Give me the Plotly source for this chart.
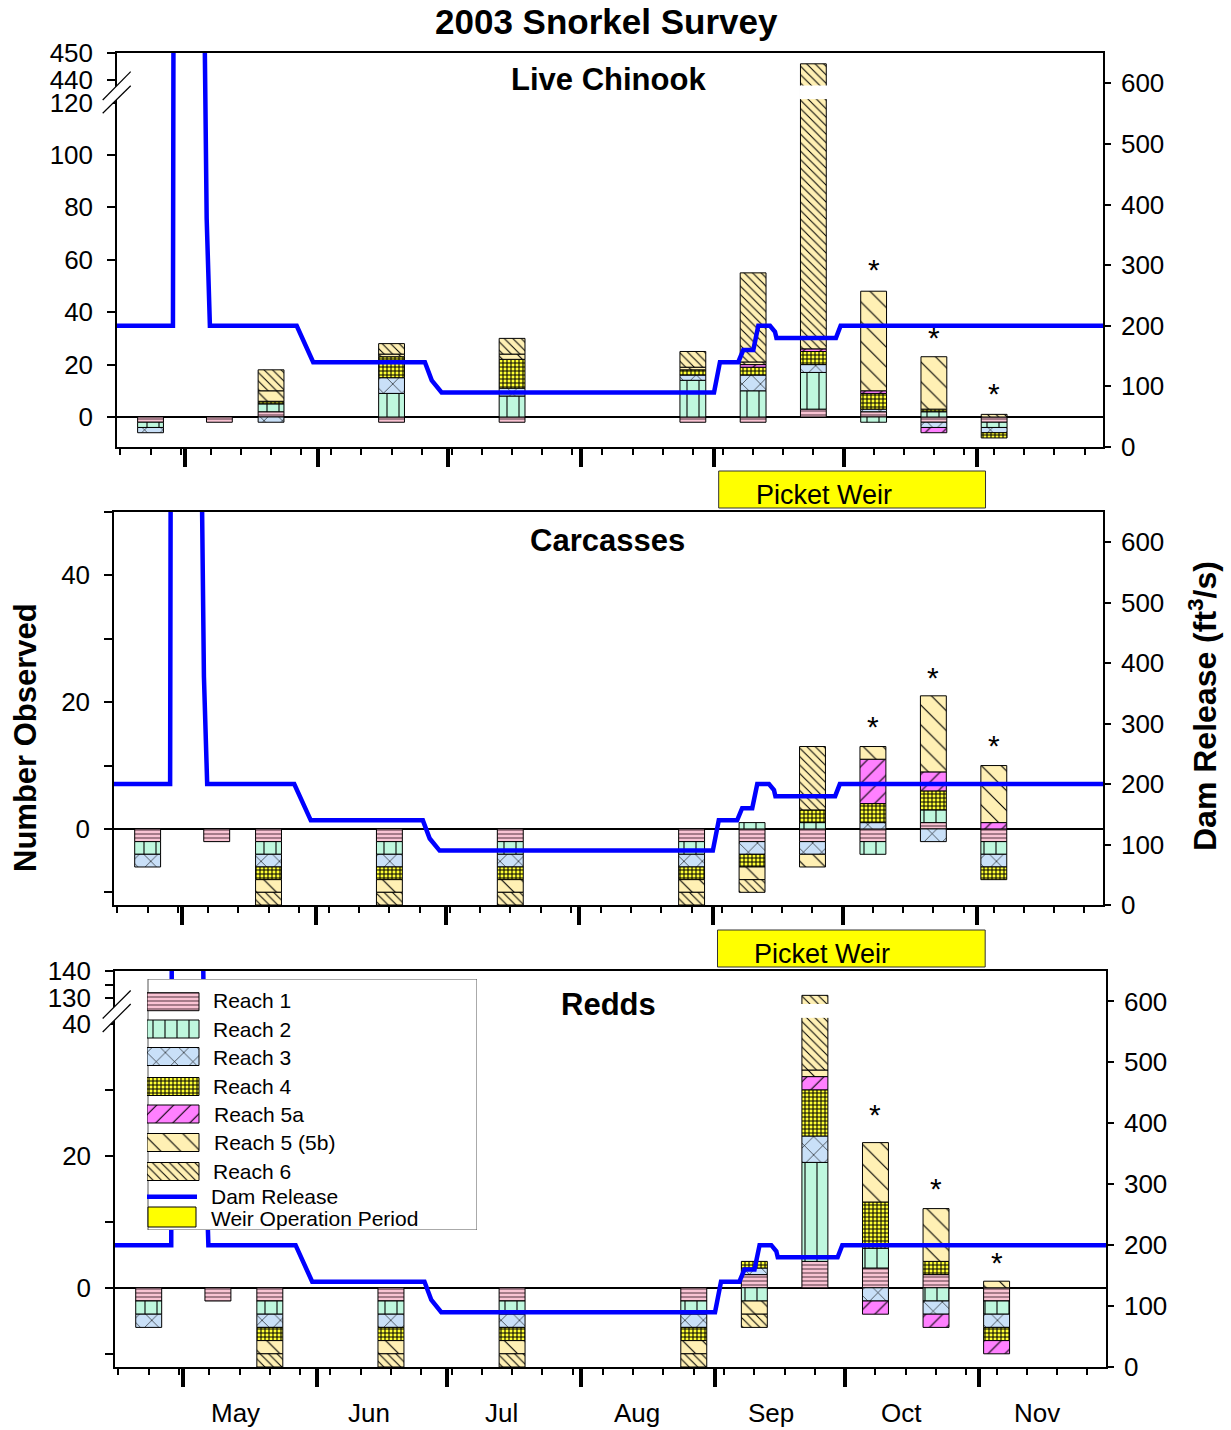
import plotly.graph_objects as go
import pandas as pd

W, H = 1231, 1430
DAY_MS = 86400000


def px_x(p):
    return p / W


def px_y(p):
    return 1 - p / H


# ---------------- data ----------------
survey_dates = ["2003-04-23", "2003-05-09", "2003-05-21", "2003-06-18", "2003-07-16",
                "2003-08-27", "2003-09-10", "2003-09-24", "2003-10-08", "2003-10-22", "2003-11-05"]
reach_names = ["Reach 1", "Reach 2", "Reach 3", "Reach 4", "Reach 5a", "Reach 5 (5b)", "Reach 6"]

# negative blocks (-2) mark reaches shown below the zero line
chinook_r1 = [-2, -2, 2, -2, -2, -2, -2, 3, 2, -2, -2]
chinook_r2 = [-2, 0, 3, 9, 8, 14, 10, 14, -2, 2, -2]
chinook_r3 = [-2, 0, -2, 6, 3, 2, 6, 3, 1, -2, -2]
chinook_r4 = [0, 0, 1, 8, 11, 2, 3, 5, 6, 1, -2]
chinook_r5a = [0, 0, 0, 0, 0, 0, 1, 1, 1, -2, 0]
chinook_r5b = [0, 0, 4, 1, 2, 1, 1, 0, 38, 20, 0]
chinook_r6 = [0, 0, 8, 4, 6, 6, 34, 420, 0, 0, 1]

carc_r1 = [-2, -2, -2, -2, -2, -2, -2, -2, -2, 1, -2]
carc_r2 = [-2, 0, -2, -2, -2, -2, 1, 1, -2, 2, -2]
carc_r3 = [-2, 0, -2, -2, -2, -2, -2, -2, 1, -2, -2]
carc_r4 = [0, 0, -2, -2, -2, -2, -2, 2, 3, 3, -2]
carc_r5a = [0, 0, 0, 0, 0, 0, 0, 0, 7, 3, 1]
carc_r5b = [0, 0, -2, -2, -2, -2, -2, -2, 2, 12, 9]
carc_r6 = [0, 0, -2, -2, -2, -2, -2, 10, 0, 0, 0]

redd_r1 = [-2, -2, -2, -2, -2, -2, 2, 4, 3, 2, -2]
redd_r2 = [-2, 0, -2, -2, -2, -2, -2, 15, 3, -2, -2]
redd_r3 = [-2, 0, -2, -2, -2, -2, 1, 4, -2, -2, -2]
redd_r4 = [0, 0, -2, -2, -2, -2, 1, 7, 7, 2, -2]
redd_r5a = [0, 0, 0, 0, 0, 0, 0, 2, -2, -2, -2]
redd_r5b = [0, 0, -2, -2, -2, -2, -2, 1, 9, 8, 1]
redd_r6 = [0, 0, -2, -2, -2, -2, -2, 98, 0, 0, 0]

asterisk_surveys = ["2003-10-08", "2003-10-22", "2003-11-05"]

dam_dates = ["2003-04-10", "2003-04-28 05:00", "2003-04-28 08:00", "2003-05-05 13:00",
             "2003-05-06 01:00", "2003-05-06 19:00", "2003-05-26 23:00", "2003-05-30 19:00",
             "2003-06-25 18:00", "2003-06-27 08:00", "2003-06-29 15:00", "2003-08-31 22:00",
             "2003-09-02 07:00", "2003-09-06 13:00", "2003-09-07 17:00", "2003-09-10 01:00",
             "2003-09-11 05:00", "2003-09-13 22:00", "2003-09-15 02:00", "2003-09-15 10:00",
             "2003-09-29 06:00", "2003-09-30 08:00", "2003-12-05"]
dam_cfs = [200, 200, 700, 700, 377, 200, 200, 140, 140, 110, 90, 90,
           140, 140, 160, 160, 200, 200, 190, 180, 180, 200, 200]

weir_start = "2003-09-02"
weir_end = "2003-11-03"

month_starts = ["2003-05-01", "2003-06-01", "2003-07-01", "2003-08-01",
                "2003-09-01", "2003-10-01", "2003-11-01"]
month_labels = ["May", "Jun", "Jul", "Aug", "Sep", "Oct", "Nov"]
month_label_pos = ["2003-05-13", "2003-06-13", "2003-07-13 15:00", "2003-08-13 20:00",
                   "2003-09-13 22:00", "2003-10-14 02:00", "2003-11-14 07:00"]

right_ticks = [0, 100, 200, 300, 400, 500, 600]

# ---------------- styles ----------------
FONT = "Liberation Sans, Arial, sans-serif"
reach_styles = [
    dict(bg="#F9C3D3", fg="#6E4B57", shape="-", size=4, solidity=0.3),
    dict(bg="#BFF7DE", fg="#000000", shape="|", size=12, solidity=0.09),
    dict(bg="#C9E0F8", fg="#000000", shape="x", size=13, solidity=0.09),
    dict(bg="#FFFF33", fg="#000000", shape="+", size=4, solidity=0.45),
    dict(bg="#FF80FF", fg="#000000", shape="/", size=12, solidity=0.09),
    dict(bg="#FFF0B4", fg="#000000", shape="\\", size=14, solidity=0.08),
    dict(bg="#FFF0B4", fg="#000000", shape="\\", size=6, solidity=0.17),
]


def t_top(v):
    return v if v <= 120 else 128.6 + (v - 440) * 1.03


def t_mid(v):
    return v


def t_bot(v):
    return v if v <= 40 else 43.9 + (v - 130) * 0.41


panels = [
    dict(title="Live Chinook", reaches=[chinook_r1, chinook_r2, chinook_r3, chinook_r4,
                                        chinook_r5a, chinook_r5b, chinook_r6],
         xa="x", ya="y", ya2="y2", T=t_top, star_shift=[28, 25, 27]),
    dict(title="Carcasses", reaches=[carc_r1, carc_r2, carc_r3, carc_r4,
                                     carc_r5a, carc_r5b, carc_r6],
         xa="x2", ya="y3", ya2="y4", T=t_mid, star_shift=[26, 24, 26]),
    dict(title="Redds", reaches=[redd_r1, redd_r2, redd_r3, redd_r4,
                                 redd_r5a, redd_r5b, redd_r6],
         xa="x3", ya="y5", ya2="y6", T=t_bot, star_shift=[34, 26, 25]),
]

fig = go.Figure()
annotations = []
shapes = []

for p in panels:
    vals = [list(r) for r in p["reaches"]]
    n = len(survey_dates)
    tops = []
    for j in range(n):
        pos_idx = [i for i in range(7) if vals[i][j] > 0]
        total = sum(vals[i][j] for i in pos_idx)
        tt = p["T"](total)
        if pos_idx and tt != total:
            vals[pos_idx[-1]][j] += tt - total
        tops.append(tt)
    for i in range(7):
        st = reach_styles[i]
        fig.add_trace(go.Bar(
            x=survey_dates, y=[v if v != 0 else None for v in vals[i]],
            width=6 * DAY_MS, xaxis=p["xa"], yaxis=p["ya"], name=reach_names[i],
            showlegend=False, hoverinfo="skip",
            marker=dict(color=st["bg"], line=dict(color="black", width=1),
                        pattern=dict(shape=st["shape"], bgcolor=st["bg"], fgcolor=st["fg"],
                                     size=st["size"], solidity=st["solidity"],
                                     fillmode="replace")),
        ))
    fig.add_trace(go.Scatter(
        x=dam_dates, y=dam_cfs, mode="lines", xaxis=p["xa"], yaxis=p["ya2"],
        line=dict(color="#0000FF", width=4.5), showlegend=False, hoverinfo="skip"))
    for k, d in enumerate(asterisk_surveys):
        j = survey_dates.index(d)
        annotations.append(dict(x=d, y=tops[j], xref=p["xa"], yref=p["ya"], text="*",
                                showarrow=False, xanchor="center", yanchor="middle",
                                yshift=p["star_shift"][k] - 6,
                                font=dict(family=FONT, size=30, color="black")))

# ---------------- legend (custom, as small horizontal patterned bars) ----------------
legend_rows_px = [1001.7, 1029, 1056.5, 1086.5, 1114, 1142.5, 1171.5]
for i in range(7):
    st = reach_styles[i]
    fig.add_trace(go.Bar(
        x=[52], y=[legend_rows_px[i] - 979], orientation="h", width=18,
        xaxis="x4", yaxis="y7", showlegend=False, hoverinfo="skip",
        marker=dict(color=st["bg"], line=dict(color="black", width=1),
                    pattern=dict(shape=st["shape"], bgcolor=st["bg"], fgcolor=st["fg"],
                                 size=st["size"], solidity=st["solidity"], fillmode="replace")),
    ))
shapes.append(dict(type="rect", xref="x4", yref="y7", x0=1, x1=330, y0=0, y1=251,
                   fillcolor="white", line=dict(color="#555555", width=1), layer="below"))
shapes.append(dict(type="line", xref="paper", yref="paper", x0=px_x(147), x1=px_x(197),
                   y0=px_y(1196.7), y1=px_y(1196.7), line=dict(color="#0000FF", width=4.5),
                   layer="above"))
shapes.append(dict(type="rect", xref="paper", yref="paper", x0=px_x(148), x1=px_x(196),
                   y0=px_y(1227), y1=px_y(1207), fillcolor="#FFFF00",
                   line=dict(color="black", width=1), layer="above"))
legend_text_px = [(211, 1001), (211, 1029), (211, 1057), (211, 1086), (212, 1114),
                  (212, 1142), (211, 1171), (209, 1196), (209, 1218)]
legend_texts = reach_names + ["Dam Release", "Weir Operation Period"]
for (lx, ly), txt in zip(legend_text_px, legend_texts):
    annotations.append(dict(x=px_x(lx), y=px_y(ly), xref="paper", yref="paper", text=txt,
                            showarrow=False, xanchor="left", yanchor="middle",
                            font=dict(family=FONT, size=21, color="black")))

# ---------------- weir boxes ----------------
for xa, (y0, y1), (tx, ty) in [("x", (471, 508), (824, 495)), ("x2", (930, 967), (822, 954))]:
    shapes.append(dict(type="rect", xref=xa, yref="paper", x0=weir_start, x1=weir_end,
                       y0=px_y(y1), y1=px_y(y0), fillcolor="#FFFF00",
                       line=dict(color="#333333", width=1), layer="above"))
    annotations.append(dict(x=px_x(tx), y=px_y(ty), xref="paper", yref="paper",
                            text="Picket Weir", showarrow=False, xanchor="center",
                            yanchor="middle",
                            font=dict(family=FONT, size=27, color="black")))

# ---------------- axis breaks ----------------
half = pd.Timedelta(hours=79)
big = pd.Timestamp(survey_dates[7])
for ya, (g0, g1) in [("y", (121.3, 126.5)), ("y5", (40.9, 43.0))]:
    xa = "x" if ya == "y" else "x3"
    shapes.append(dict(type="rect", xref=xa, yref=ya, x0=big - half, x1=big + half,
                       y0=g0, y1=g1, fillcolor="white", line=dict(width=0), layer="above"))

for (a0, a1, b0, b1) in [((102.7, 113.3), (130.7, 85.7), (102.7, 100.0), (130.7, 71.7)),
                         ((102.7, 1032.0), (130.7, 1004.0), (102.7, 1018.5), (130.7, 990.5))]:
    path = "M {} {} L {} {} L {} {} L {} {} Z".format(
        px_x(a0[0]), px_y(a0[1]), px_x(a1[0]), px_y(a1[1]),
        px_x(b1[0]), px_y(b1[1]), px_x(b0[0]), px_y(b0[1]))
    shapes.append(dict(type="path", xref="paper", yref="paper", path=path,
                       fillcolor="white", line=dict(width=0), layer="above"))
    for s, e in [(a0, a1), (b0, b1)]:
        shapes.append(dict(type="line", xref="paper", yref="paper",
                           x0=px_x(s[0]), y0=px_y(s[1]), x1=px_x(e[0]), y1=px_y(e[1]),
                           line=dict(color="black", width=1.2), layer="above"))

# ---------------- texts ----------------
annotations.append(dict(x=px_x(606), y=px_y(22), xref="paper", yref="paper",
                        text="<b>2003 Snorkel Survey</b>", showarrow=False,
                        xanchor="center", yanchor="middle",
                        font=dict(family=FONT, size=35, color="black")))
for p, (tx, ty) in zip(panels, [(608, 80), (607, 540), (608, 1004)]):
    annotations.append(dict(x=px_x(tx), y=px_y(ty), xref="paper", yref="paper",
                            text="<b>%s</b>" % p["title"], showarrow=False,
                            xanchor="center", yanchor="middle",
                            font=dict(family=FONT, size=31, color="black")))
annotations.append(dict(x=px_x(25), y=px_y(738), xref="paper", yref="paper",
                        text="<b>Number Observed</b>", textangle=-90, showarrow=False,
                        xanchor="center", yanchor="middle",
                        font=dict(family=FONT, size=31, color="black")))
annotations.append(dict(x=px_x(1203), y=px_y(706), xref="paper", yref="paper",
                        text="<b>Dam Release (ft<sup>3</sup>/s)</b>", textangle=-90,
                        showarrow=False, xanchor="center", yanchor="middle",
                        font=dict(family="Liberation Sans Narrow, " + FONT, size=32,
                                  color="black")))
for d, m in zip(month_label_pos, month_labels):
    annotations.append(dict(x=d, y=px_y(1413), xref="x3", yref="paper", text=m,
                            showarrow=False, xanchor="center", yanchor="middle",
                            font=dict(family=FONT, size=26, color="black")))

# ---------------- axes ----------------
xrange_ = ["2003-04-15 05:00", "2003-11-30 07:00"]
tickfont = dict(family=FONT, size=26, color="black")


def xaxis(dom, anchor):
    return dict(domain=[px_x(dom[0]), px_x(dom[1])], anchor=anchor, type="date",
                range=xrange_, tickvals=month_starts, showticklabels=False,
                ticks="outside", ticklen=18, tickwidth=3.5, tickcolor="black",
                showline=True, linecolor="black", linewidth=1.5, mirror=True,
                showgrid=False, zeroline=False, automargin=False,
                minor=dict(tickmode="linear", tick0="2003-04-16", dtick=7 * DAY_MS,
                           ticks="outside", ticklen=6, tickwidth=1.5, tickcolor="black",
                           showgrid=False))


def yleft(dom, anchor, rng, tv, tt):
    return dict(domain=[px_y(dom[1]), px_y(dom[0])], anchor=anchor, range=rng,
                tickvals=tv, ticktext=tt, ticks="outside", ticklen=8, tickwidth=1.5,
                tickcolor="black", showline=True, linecolor="black", linewidth=1.5,
                showgrid=False, zeroline=True, zerolinecolor="black", zerolinewidth=1.5,
                tickfont=tickfont, automargin=False, ticklabelstandoff=9)


def yright(over, anchor):
    return dict(overlaying=over, anchor=anchor, side="right", range=[0, 650],
                tickvals=right_ticks, ticks="outside", ticklen=6, tickwidth=1.5,
                tickcolor="black", showline=True, linecolor="black", linewidth=1.5,
                showgrid=False, zeroline=False, tickfont=tickfont, automargin=False,
                ticklabelstandoff=5)


top_tv = [0, 20, 40, 60, 80, 100, 120, t_top(440), t_top(450)]
top_tt = ["0", "20", "40", "60", "80", "100", "120", "440", "450"]
mid_tv = [-10, 0, 10, 20, 30, 40, 50]
mid_tt = ["", "0", "", "20", "", "40", ""]
bot_tv = [-10, 0, 10, 20, 30, 40, t_bot(130), t_bot(135), t_bot(140)]
bot_tt = ["", "0", "", "20", "", "40", "130", "", "140"]

fig.update_layout(
    template="none",
    width=W, height=H, autosize=False,
    margin=dict(l=0, r=0, t=0, b=0, pad=0, autoexpand=False),
    paper_bgcolor="white", plot_bgcolor="white",
    barmode="relative", showlegend=False,
    font=dict(family=FONT, color="black"),
    xaxis=xaxis((117, 1103), "y"),
    yaxis=yleft((53, 447), "x", [-11.45, t_top(450)], top_tv, top_tt),
    yaxis2=yright("y", "x"),
    xaxis2=xaxis((114, 1103), "y3"),
    yaxis3=yleft((512, 905), "x2", [-12, 50], mid_tv, mid_tt),
    yaxis4=yright("y3", "x2"),
    xaxis3=xaxis((115, 1106), "y5"),
    yaxis5=yleft((971, 1367), "x3", [-12, t_bot(140)], bot_tv, bot_tt),
    yaxis6=yright("y5", "x3"),
    xaxis4=dict(domain=[px_x(147), px_x(477)], range=[0, 330], visible=False,
                anchor="y7", fixedrange=True, automargin=False),
    yaxis7=dict(domain=[px_y(1230), px_y(979)], range=[251, 0], visible=False,
                anchor="x4", fixedrange=True, automargin=False),
    annotations=annotations, shapes=shapes,
)

fig.write_html("out.html", config={"displayModeBar": False},
               post_script="document.body.style.margin='0px';")
